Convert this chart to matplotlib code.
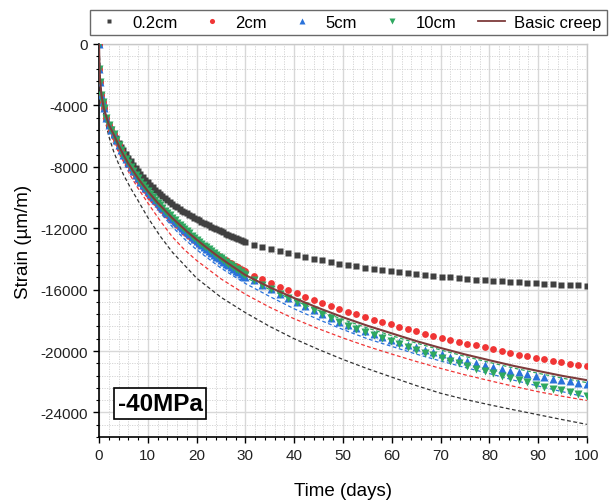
import matplotlib
matplotlib.use("Agg")
import matplotlib.pyplot as plt
from matplotlib.ticker import MultipleLocator

plt.rcParams['font.family'] = ['Liberation Sans', 'DejaVu Sans']
plt.rcParams['axes.unicode_minus'] = False

# ---------------- data ----------------
t_dense = [0, 0.1, 0.25, 0.5, 0.75, 1, 1.5, 2, 2.5, 3, 3.5, 4, 4.5, 5, 5.5, 6, 6.5, 7, 7.5, 8,
           8.5, 9, 9.5, 10, 10.5, 11, 11.5, 12, 12.5, 13, 13.5, 14, 14.5, 15, 15.5, 16, 16.5,
           17, 17.5, 18, 18.5, 19, 19.5, 20, 20.5, 21, 21.5, 22, 22.5, 23, 23.5, 24, 24.5, 25,
           25.5, 26, 26.5, 27, 27.5, 28, 28.5, 29, 29.5, 30]

s02_dense = [0, -1600, -2500, -3300, -3800, -4200, -4800, -5250, -5550, -5850, -6150, -6420, -6680,
             -6920, -7160, -7400, -7630, -7850, -8050, -8250, -8450, -8650, -8830, -9000, -9170,
             -9330, -9490, -9640, -9790, -9930, -10060, -10190, -10310, -10430, -10550, -10650,
             -10750, -10850, -10945, -11040, -11135, -11230, -11315, -11400, -11485, -11570,
             -11655, -11740, -11820, -11900, -11975, -12050, -12125, -12200, -12275, -12350,
             -12420, -12490, -12560, -12630, -12700, -12770, -12835, -12900]

s2_dense = [0, -1600, -2500, -3300, -3800, -4200, -4800, -5250, -5580, -5880, -6240, -6590, -6910,
            -7220, -7530, -7810, -8090, -8350, -8600, -8840, -9080, -9310, -9530, -9740, -9940,
            -10130, -10310, -10490, -10660, -10830, -11000, -11160, -11320, -11480, -11630,
            -11780, -11930, -12070, -12220, -12360, -12490, -12630, -12760, -12900, -13010,
            -13110, -13220, -13320, -13430, -13530, -13630, -13730, -13820, -13920, -14010,
            -14100, -14190, -14280, -14370, -14460, -14550, -14630, -14720, -14800]

s5_dense = [0, -1600, -2500, -3300, -3800, -4200, -4800, -5250, -5580, -5880, -6240, -6590, -6910,
            -7220, -7510, -7780, -8040, -8290, -8520, -8750, -8970, -9190, -9390, -9590, -9790,
            -9990, -10170, -10360, -10530, -10700, -10880, -11040, -11200, -11370, -11520,
            -11680, -11830, -11970, -12130, -12270, -12400, -12550, -12680, -12830, -12960,
            -13080, -13220, -13340, -13470, -13600, -13720, -13850, -13960, -14080, -14200,
            -14310, -14420, -14540, -14650, -14770, -14880, -14980, -15100, -15200]

s10_dense = [0, -1600, -2500, -3300, -3800, -4200, -4800, -5250, -5580, -5880, -6240, -6590, -6910,
             -7220, -7510, -7780, -8040, -8290, -8520, -8750, -8970, -9190, -9390, -9590, -9790,
             -9980, -10160, -10340, -10510, -10680, -10850, -11010, -11170, -11330, -11480,
             -11630, -11780, -11920, -12070, -12210, -12340, -12480, -12610, -12750, -12880,
             -13000, -13130, -13250, -13380, -13500, -13620, -13740, -13850, -13970, -14080,
             -14190, -14300, -14410, -14520, -14630, -14740, -14840, -14950, -15050]

t_sparse = [31.75, 33.5, 35.25, 37, 38.75, 40.5, 42.25, 44, 45.75, 47.5, 49.25, 51, 52.75, 54.5,
            56.25, 58, 59.75, 61.5, 63.25, 65, 66.75, 68.5, 70.25, 72, 73.75, 75.5, 77.25, 79,
            80.75, 82.5, 84.25, 86, 87.75, 89.5, 91.25, 93, 94.75, 96.5, 98.25, 100]

s02_sparse = [-13080, -13220, -13360, -13500, -13630, -13760, -13880, -13990, -14100, -14200,
              -14300, -14390, -14480, -14570, -14650, -14730, -14800, -14870, -14930, -14990,
              -15050, -15110, -15160, -15210, -15260, -15310, -15350, -15390, -15430, -15470,
              -15500, -15530, -15560, -15590, -15620, -15650, -15670, -15700, -15720, -15740]

s2_sparse = [-15110, -15330, -15570, -15800, -16020, -16240, -16460, -16670, -16880, -17080,
             -17270, -17450, -17620, -17790, -17960, -18120, -18270, -18420, -18570, -18720,
             -18860, -19000, -19140, -19270, -19400, -19520, -19630, -19760, -19880, -20000,
             -20110, -20230, -20340, -20450, -20550, -20650, -20740, -20830, -20920, -21000]

s5_sparse = [-15400, -15690, -15970, -16260, -16550, -16820, -17080, -17330, -17590, -17840,
             -18090, -18310, -18500, -18700, -18890, -19080, -19270, -19440, -19590, -19750,
             -19910, -20070, -20220, -20360, -20500, -20640, -20780, -20920, -21050, -21160,
             -21280, -21390, -21500, -21620, -21710, -21800, -21890, -21980, -22060, -22150]

s10_sparse = [-15400, -15690, -15970, -16260, -16550, -16830, -17090, -17350, -17610, -17880,
              -18140, -18370, -18570, -18770, -18970, -19170, -19370, -19560, -19740, -19930,
              -20110, -20290, -20470, -20640, -20810, -20970, -21140, -21310, -21460, -21610,
              -21750, -21900, -22040, -22190, -22320, -22450, -22570, -22700, -22830, -22950]

t_basic = [0, 0.1, 0.25, 0.5, 1, 2, 3, 4, 5, 6, 8, 10, 12, 15, 18, 21, 24, 27, 30, 35, 40, 45,
           50, 55, 60, 65, 70, 75, 80, 85, 90, 95, 100]
s_basic = [0, -1600, -2500, -3300, -4200, -5250, -5880, -6590, -7220, -7780, -8750, -9590, -10340,
           -11330, -12210, -13000, -13740, -14410, -15050, -15850, -16550, -17200, -17800,
           -18350, -18850, -19350, -19800, -20220, -20600, -20970, -21300, -21620, -21900]

t_model = [0, 0.25, 0.5, 1, 2, 3, 4, 5, 6.5, 8, 10, 12.5, 15, 17.5, 20, 25, 30, 35, 40, 45, 50,
           55, 60, 65, 70, 75, 80, 85, 90, 95, 100]
m02 = [0, -2600, -3500, -4600, -6000, -7000, -7800, -8500, -9400, -10200, -11300, -12500, -13550,
       -14400, -15250, -16500, -17500, -18400, -19200, -19900, -20550, -21150, -21700, -22250,
       -22750, -23150, -23500, -23830, -24150, -24470, -24780]
m2 = [0, -2500, -3300, -4300, -5500, -6350, -7050, -7650, -8600, -9400, -10350, -11500, -12550,
      -13400, -14100, -15300, -16300, -17150, -17900, -18550, -19150, -19700, -20200, -20680,
      -21130, -21550, -21930, -22300, -22650, -22950, -23220]
m5 = [0, -2500, -3300, -4250, -5350, -6100, -6800, -7400, -8250, -9000, -9900, -10950, -11900,
      -12700, -13400, -14600, -15600, -16450, -17250, -17950, -18600, -19200, -19700, -20200,
      -20650, -21070, -21470, -21900, -22280, -22650, -23020]
m10 = [0, -2500, -3300, -4200, -5250, -5880, -6590, -7220, -8040, -8750, -9600, -10550, -11400,
       -12150, -12850, -14100, -15200, -16000, -16700, -17350, -17950, -18500, -19000, -19480,
       -19930, -20350, -20740, -21110, -21450, -21770, -22060]

labels = ['0.2cm', '2cm', '5cm', '10cm', 'Basic creep']
c_grey, c_red, c_blue, c_green, c_brown = '#404040', '#F03535', '#2A72DA', '#2FA860', '#7E3C3C'

# ---------------- figure ----------------
fig = plt.figure(figsize=(6.10, 5.02), dpi=100)
ax = fig.add_axes([99/610, 64/502, 488/610, 393/502])

# model (dashed) lines
ax.plot(t_model, m02, ls=(0, (3, 2)), color='#333333', lw=0.9, zorder=2)
ax.plot(t_model, m2, ls=(0, (3, 2)), color=c_red, lw=0.9, zorder=2)
ax.plot(t_model, m5, ls=(0, (3, 2)), color=c_blue, lw=0.9, zorder=2)
ax.plot(t_model, m10, ls=(0, (3, 2)), color=c_green, lw=0.9, zorder=2)

ax.plot(t_dense + t_sparse, s02_dense + s02_sparse, ls='none', marker='s', ms=4.4,
        color=c_grey, mec='none', zorder=3, label=labels[0])
ax.plot(t_dense + t_sparse, s2_dense + s2_sparse, ls='none', marker='o', ms=4.9,
        color=c_red, mec='none', zorder=3, label=labels[1])
ax.plot(t_dense + t_sparse, s5_dense + s5_sparse, ls='none', marker='^', ms=5.4,
        color=c_blue, mec='none', zorder=3, label=labels[2])
ax.plot(t_dense + t_sparse, s10_dense + s10_sparse, ls='none', marker='v', ms=5.4,
        color=c_green, mec='none', zorder=3, label=labels[3])
ax.plot(t_basic, s_basic, ls='-', color=c_brown, lw=1.5, zorder=4, label=labels[4])

ax.set_xlim(0, 100)
ax.set_ylim(-25600, 0)
ax.xaxis.set_major_locator(MultipleLocator(10))
ax.xaxis.set_minor_locator(MultipleLocator(2))
ax.yaxis.set_major_locator(MultipleLocator(4000))
ax.yaxis.set_minor_locator(MultipleLocator(800))

ax.grid(which='major', color='#D8D8D8', lw=1.0, ls='-', zorder=0)
ax.grid(which='minor', color='#D0D0D0', lw=0.6, ls=(0, (1.5, 1.5)), zorder=0)
ax.set_axisbelow(True)

for side in ['top', 'right']:
    ax.spines[side].set_color('#C8C8C8')
    ax.spines[side].set_linewidth(1.0)
for side in ['left', 'bottom']:
    ax.spines[side].set_color('black')
    ax.spines[side].set_linewidth(1.2)

ax.tick_params(which='major', direction='out', length=4.5, width=1.0, labelsize=11, colors='black',
               top=False, right=False)
ax.tick_params(which='minor', direction='out', length=2.5, width=0.8, top=False, right=False)
ax.tick_params(axis='both', labelcolor='#222222')

ax.set_xlabel('Time (days)', fontsize=13.5, labelpad=14)
ax.set_ylabel('Strain (\u00b5m/m)', fontsize=13.5, labelpad=6)

ax.text(0.125, 0.085, '-40MPa', transform=ax.transAxes, ha='center', va='center',
        fontsize=17.5, fontweight='bold', zorder=6,
        bbox=dict(boxstyle='square,pad=0.15', fc='white', ec='black', lw=1.2))

handles, hl = ax.get_legend_handles_labels()
leg = fig.legend(handles, hl, loc='center', bbox_to_anchor=(348.5/610, 1 - 23.5/502), ncol=5,
                 fontsize=12, frameon=True, fancybox=False, edgecolor='#444444',
                 handlelength=1.6, handletextpad=0.6, columnspacing=1.3, borderpad=0.3,
                 markerscale=0.75)
leg.get_frame().set_linewidth(1.0)
leg.legend_handles[4].set_linewidth(1.3)

fig.savefig('out.png', dpi=100)
